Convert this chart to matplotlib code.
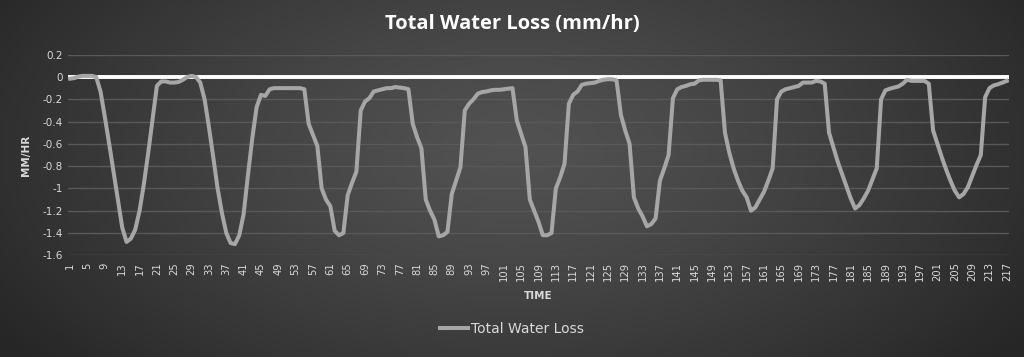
import numpy as np
import matplotlib
matplotlib.use("Agg")
import matplotlib.pyplot as plt

title = "Total Water Loss (mm/hr)"
series_name = "Total Water Loss"
x_label = "TIME"
y_label = "MM/HR"

water_loss = [
    -0.015, -0.01, 0.005, 0.01, 0.01, 0.01, 0.0, -0.13, -0.36, -0.6,
    -0.85, -1.1, -1.35, -1.48, -1.45, -1.37, -1.2, -0.96, -0.68, -0.38,
    -0.08, -0.04, -0.04, -0.05, -0.05, -0.045, -0.025, 0.0, 0.01, 0.0,
    -0.05, -0.2, -0.45, -0.72, -1.0, -1.22, -1.4, -1.49, -1.5, -1.42,
    -1.23, -0.88, -0.55, -0.27, -0.16, -0.17, -0.11, -0.1, -0.1, -0.1,
    -0.1, -0.1, -0.1, -0.1, -0.11, -0.42, -0.52, -0.62, -1.0, -1.1,
    -1.16, -1.38, -1.42, -1.4, -1.06, -0.95, -0.85, -0.3, -0.22, -0.19,
    -0.13, -0.12, -0.11, -0.1, -0.1, -0.09, -0.095, -0.1, -0.11, -0.42,
    -0.54, -0.64, -1.1, -1.2, -1.28, -1.43, -1.42, -1.39, -1.05, -0.93,
    -0.81, -0.3, -0.24, -0.2, -0.15, -0.135, -0.13, -0.12, -0.115, -0.115,
    -0.11, -0.105, -0.1, -0.39, -0.51, -0.63, -1.1, -1.2, -1.3, -1.42,
    -1.42, -1.4, -1.0, -0.9, -0.78, -0.24, -0.16, -0.13, -0.07, -0.06,
    -0.055, -0.05, -0.035, -0.025, -0.02, -0.02, -0.03, -0.34, -0.48, -0.6,
    -1.08, -1.18, -1.25, -1.34, -1.32, -1.27, -0.93, -0.82, -0.7, -0.19,
    -0.11, -0.09, -0.08, -0.065, -0.06, -0.03, -0.025, -0.025, -0.025, -0.025,
    -0.03, -0.5, -0.68, -0.82, -0.93, -1.02, -1.08, -1.2, -1.17, -1.1,
    -1.03, -0.93, -0.82, -0.2, -0.13, -0.11, -0.1, -0.09, -0.08, -0.05,
    -0.05, -0.05, -0.035, -0.04, -0.06, -0.5, -0.63, -0.76, -0.87, -0.98,
    -1.09, -1.18, -1.15, -1.09, -1.02, -0.92, -0.82, -0.2, -0.12, -0.105,
    -0.095, -0.085, -0.06, -0.025, -0.035, -0.035, -0.035, -0.035, -0.06, -0.48,
    -0.6, -0.72, -0.83, -0.93, -1.02, -1.08, -1.05, -0.99, -0.89, -0.79,
    -0.7, -0.18, -0.1, -0.075, -0.065, -0.05, -0.035,
]
time = np.arange(1, len(water_loss) + 1)
x_tick_values = list(range(1, len(water_loss) + 1, 4))
y_tick_values = [0.2, 0, -0.2, -0.4, -0.6, -0.8, -1, -1.2, -1.4, -1.6]

W, H = 1024, 357
fig = plt.figure(figsize=(W / 100, H / 100), dpi=100)

# radial gradient background
bg = fig.add_axes([0, 0, 1, 1], zorder=0)
yy, xx = np.mgrid[0:H, 0:W]
r = np.sqrt(((xx - 512) / 620.0) ** 2 + ((yy - 150) / 330.0) ** 2)
r = np.clip(r, 0, 1)
light, dark = 0.32, 0.15
img = light - (light - dark) * r ** 1.3
bg.imshow(np.dstack([img, img, img]), aspect="auto", extent=[0, 1, 0, 1])
bg.set_axis_off()

ax = fig.add_axes([68 / W, 1 - 255.3 / H, (1009 - 68) / W, (255.3 - 54.7) / H], zorder=1)
ax.set_facecolor("none")
ax.set_xlim(0.5, len(water_loss) + 0.5)
ax.set_ylim(-1.6, 0.2)

for v in y_tick_values:
    if v != 0:
        ax.axhline(v, color="#595959", lw=1.0, zorder=1)
ax.axhline(0, color="white", lw=2.8, zorder=2)

line, = ax.plot(time, water_loss, color="#a6a6a6", lw=2.9, solid_joinstyle="round",
                zorder=3, label=series_name)

for s in ax.spines.values():
    s.set_visible(False)

label_color = "#d9d9d9"
ax.set_yticks(y_tick_values)
ax.set_yticklabels([f"{v:g}" for v in y_tick_values], color=label_color, fontsize=7.5)
ax.set_xticks(x_tick_values)
ax.set_xticklabels([str(v) for v in x_tick_values], rotation=90, color=label_color,
                   fontsize=7.2)
ax.tick_params(axis="both", length=0, pad=4)
ax.tick_params(axis="x", pad=5)

ax.set_xlabel(x_label, color=label_color, fontsize=7.5, fontweight="bold", labelpad=7)
ax.set_ylabel(y_label, color=label_color, fontsize=7.5, fontweight="bold", labelpad=8)

fig.text(0.5, 1 - 24 / H, title, ha="center", va="center", color="white",
         fontsize=14.5, fontweight="bold", family="Open Sans")

leg = fig.legend(handles=[line], labels=[series_name], loc="center",
                 bbox_to_anchor=(0.5, 1 - 329 / H), bbox_transform=fig.transFigure,
                 frameon=False, fontsize=10, handlelength=2.0, handletextpad=0.2)
for t in leg.get_texts():
    t.set_color(label_color)

fig.savefig("out.png", dpi=100)
